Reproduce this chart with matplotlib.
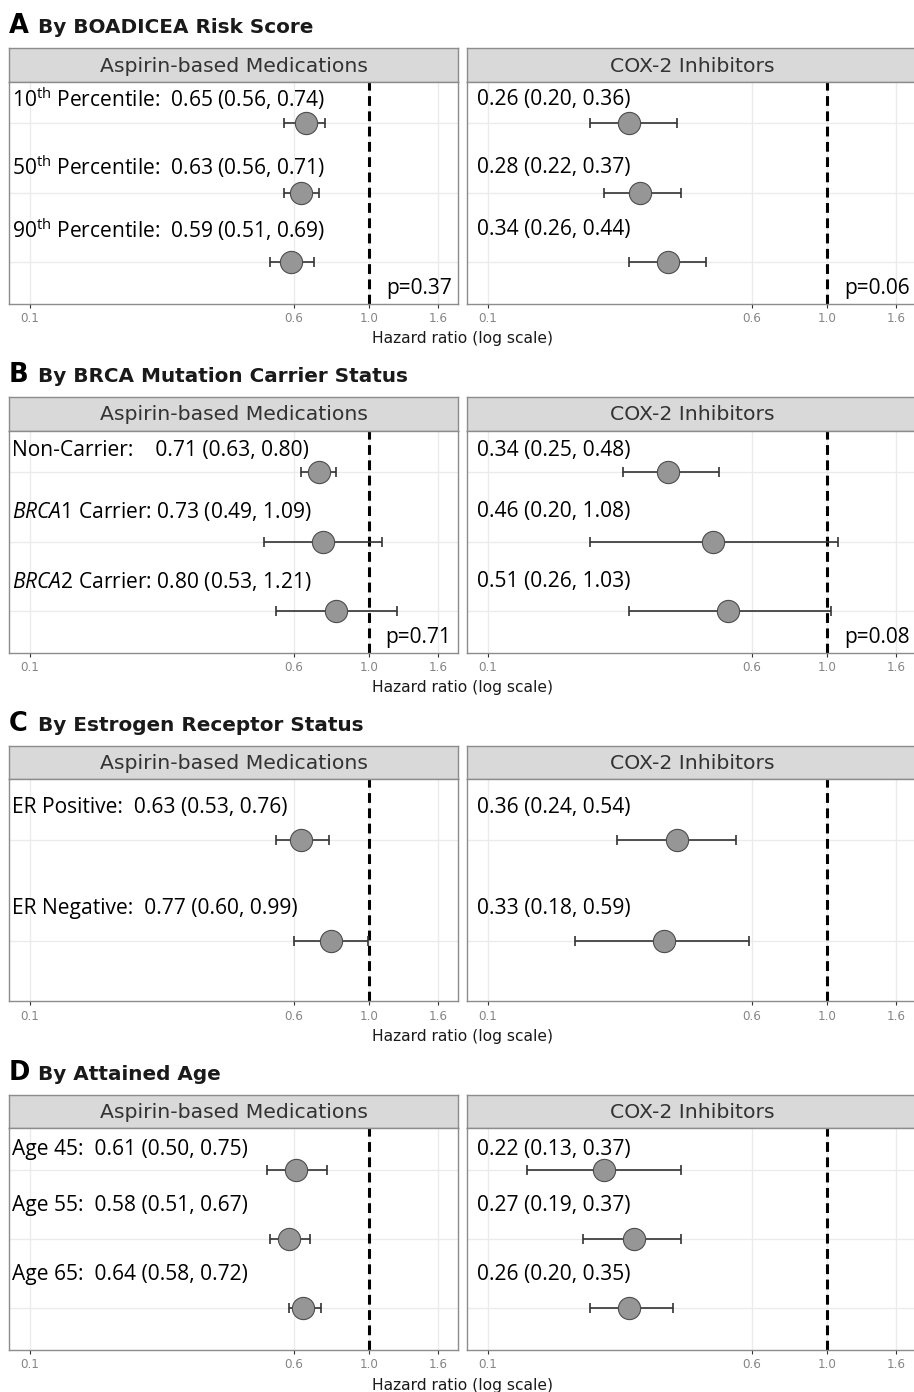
import matplotlib
matplotlib.use("Agg")
from matplotlib import pyplot as plt
from matplotlib.ticker import NullLocator

plt.rcParams['mathtext.fontset'] = 'custom'
plt.rcParams['mathtext.rm'] = 'Open Sans'
plt.rcParams['mathtext.it'] = 'Open Sans:italic'

# ---- data (hazard ratio, lower CI, upper CI) ----
drug_names = ["Aspirin-based Medications", "COX-2 Inhibitors"]

titles = ["By BOADICEA Risk Score", "By BRCA Mutation Carrier Status",
          "By Estrogen Receptor Status", "By Attained Age"]
letters = ["A", "B", "C", "D"]

a_labels = [r"10$^{\mathrm{th}}$ Percentile:  ", r"50$^{\mathrm{th}}$ Percentile:  ",
            r"90$^{\mathrm{th}}$ Percentile:  "]
a_asp_hr = [0.65, 0.63, 0.59]
a_asp_lo = [0.56, 0.56, 0.51]
a_asp_hi = [0.74, 0.71, 0.69]
a_cox_hr = [0.26, 0.28, 0.34]
a_cox_lo = [0.20, 0.22, 0.26]
a_cox_hi = [0.36, 0.37, 0.44]
a_pvals = ["p=0.37", "p=0.06"]

b_labels = ["Non-Carrier:    ", r"$\mathit{BRCA1}$ Carrier: ", r"$\mathit{BRCA2}$ Carrier: "]
b_asp_hr = [0.71, 0.73, 0.80]
b_asp_lo = [0.63, 0.49, 0.53]
b_asp_hi = [0.80, 1.09, 1.21]
b_cox_hr = [0.34, 0.46, 0.51]
b_cox_lo = [0.25, 0.20, 0.26]
b_cox_hi = [0.48, 1.08, 1.03]
b_pvals = ["p=0.71", "p=0.08"]

c_labels = ["ER Positive:  ", "ER Negative:  "]
c_asp_hr = [0.63, 0.77]
c_asp_lo = [0.53, 0.60]
c_asp_hi = [0.76, 0.99]
c_cox_hr = [0.36, 0.33]
c_cox_lo = [0.24, 0.18]
c_cox_hi = [0.54, 0.59]
c_pvals = [None, None]

d_labels = ["Age 45:  ", "Age 55:  ", "Age 65:  "]
d_asp_hr = [0.61, 0.58, 0.64]
d_asp_lo = [0.50, 0.51, 0.58]
d_asp_hi = [0.75, 0.67, 0.72]
d_cox_hr = [0.22, 0.27, 0.26]
d_cox_lo = [0.13, 0.19, 0.20]
d_cox_hi = [0.37, 0.37, 0.35]
d_pvals = [None, None]

xticks = [0.1, 0.6, 1.0, 1.6]
xtick_labels = ["0.1", "0.6", "1.0", "1.6"]

# label heights above each point (row units)
label_lift = [[0.35, 0.37, 0.47], [0.31, 0.44, 0.42], [0.32, 0.32], [0.29, 0.48, 0.49]]

sections = [
    (a_labels, (a_asp_hr, a_asp_lo, a_asp_hi), (a_cox_hr, a_cox_lo, a_cox_hi), a_pvals),
    (b_labels, (b_asp_hr, b_asp_lo, b_asp_hi), (b_cox_hr, b_cox_lo, b_cox_hi), b_pvals),
    (c_labels, (c_asp_hr, c_asp_lo, c_asp_hi), (c_cox_hr, c_cox_lo, c_cox_hi), c_pvals),
    (d_labels, (d_asp_hr, d_asp_lo, d_asp_hi), (d_cox_hr, d_cox_lo, d_cox_hi), d_pvals),
]

W, H = 914, 1392
fig = plt.figure(figsize=(W / 100, H / 100), dpi=100)

LBL_FONT = "Open Sans"
BOX_FONT = "DejaVu Sans"
BORDER = "#8c8c8c"


def fig_axes(x0, y0, x1, y1):
    # pixel box (top-left origin) -> axes
    return fig.add_axes([x0 / W, 1 - y1 / H, (x1 - x0) / W, (y1 - y0) / H])


def draw_panel(ax, labels, est, pval, lifts, show_label, text_x):
    hr, lo, hi = est
    n = len(hr)
    rows = list(range(n))
    ax.set_xscale("log")
    ax.set_xlim(0.0868, 1.834)
    ax.set_ylim(n - 1 + 0.6, -0.6)
    ax.set_xticks(xticks)
    ax.set_xticklabels(xtick_labels)
    ax.xaxis.set_minor_locator(NullLocator())
    ax.set_yticks(rows)
    ax.set_yticklabels([])
    ax.tick_params(axis="y", length=0)
    ax.tick_params(axis="x", length=3, width=0.8, color="#333333", labelsize=8.6,
                   labelcolor="#858585", pad=3)
    for t in ax.get_xticklabels():
        t.set_fontfamily(BOX_FONT)
    ax.grid(True, color="#ebebeb", lw=1.0, zorder=0)
    ax.set_axisbelow(True)
    for s in ax.spines.values():
        s.set_color(BORDER)
        s.set_linewidth(1.0)
    ax.axvline(1.0, color="black", lw=2.2, linestyle=(0, (3.2, 1.8)), zorder=2)
    err_lo = [h - l for h, l in zip(hr, lo)]
    err_hi = [u - h for h, u in zip(hr, hi)]
    ax.errorbar(hr, rows, xerr=[err_lo, err_hi], fmt="none", ecolor="#333333",
                elinewidth=1.2, capsize=3.5, capthick=1.2, zorder=3)
    ax.plot(hr, rows, "o", ms=16, mfc="#969696", mec="#4d4d4d", mew=0.8, zorder=4)
    for i in rows:
        txt = f"{hr[i]:.2f} ({lo[i]:.2f}, {hi[i]:.2f})"
        if show_label:
            txt = labels[i] + txt
        ax.text(text_x, i - lifts[i], txt, transform=ax.get_yaxis_transform(),
                ha="left", va="center", fontsize=15.1, family=LBL_FONT, color="black")
    if pval:
        ax.text(0.985, 0.068, pval, transform=ax.transAxes, ha="right", va="center",
                fontsize=15, family=LBL_FONT, color="black")


def draw_strip(x0, x1, top, name):
    sax = fig_axes(x0, top, x1, top + 33.5)
    sax.set_facecolor("#d9d9d9")
    sax.set_xticks([])
    sax.set_yticks([])
    for s in sax.spines.values():
        s.set_color(BORDER)
        s.set_linewidth(1.0)
    sax.text(0.5, 0.47, name, transform=sax.transAxes, ha="center", va="center",
             fontsize=14.7, family=BOX_FONT, color="#333333")


panel_x = [(9.3, 458.3), (467.3, 916.3)]
text_x = [0.007, 0.021]

for k, (labels, asp, cox, pvals) in enumerate(sections):
    top = 48.3 + k * 348.8
    strip_bottom = top + 33.5
    bottom = top + 255.4
    fig.text(9 / W, 1 - (top - 15) / H, letters[k], fontsize=18.5, fontweight="bold",
             family=BOX_FONT, ha="left", va="baseline")
    fig.text(38 / W, 1 - (top - 15) / H, titles[k], fontsize=14.4, fontweight="bold",
             family=BOX_FONT, ha="left", va="baseline", color="#1a1a1a")
    for j, est in enumerate([asp, cox]):
        x0, x1 = panel_x[j]
        draw_strip(x0, x1, top, drug_names[j])
        ax = fig_axes(x0, strip_bottom, x1, bottom)
        draw_panel(ax, labels, est, pvals[j], label_lift[k], j == 0, text_x[j])
    fig.text(463 / W, 1 - (bottom + 35) / H, "Hazard ratio (log scale)", fontsize=11.2,
             family=BOX_FONT, ha="center", va="center", color="#1a1a1a")

fig.savefig("out.png", dpi=100)
